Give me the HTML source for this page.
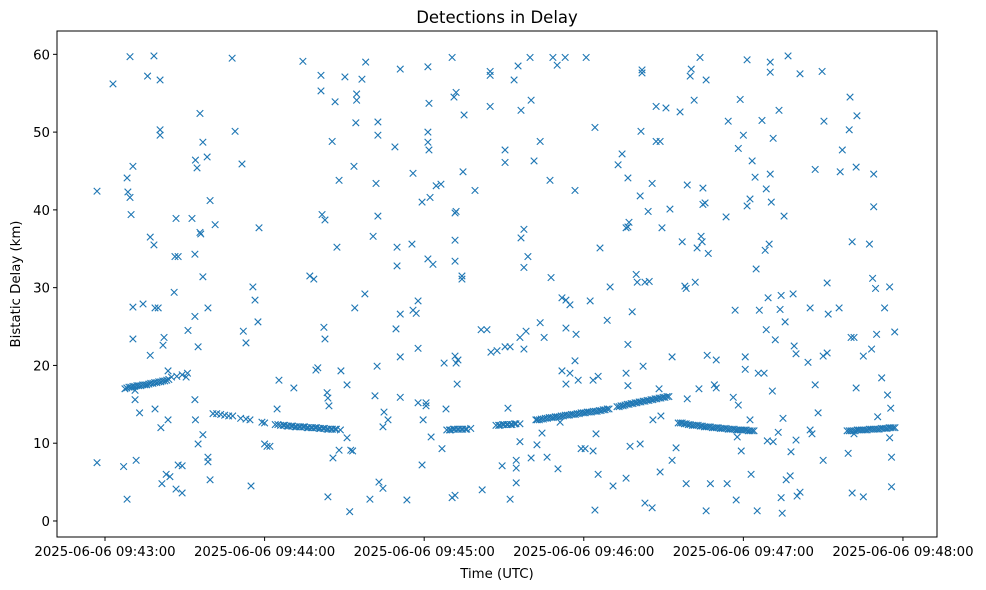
<!DOCTYPE html>
<html><head><meta charset="utf-8"><title>Detections in Delay</title>
<style>
html,body{margin:0;padding:0;background:#fff;}
svg{display:block;font-family:"DejaVu Sans","Liberation Sans",sans-serif;}
</style></head>
<body>
<svg id="chart" width="986" height="590" viewBox="0 0 986 590" xmlns="http://www.w3.org/2000/svg">
<rect x="0" y="0" width="986" height="590" fill="#fff"/>
<text x="497" y="23" font-size="16.5" text-anchor="middle" fill="#000">Detections in Delay</text>
<g id="plot"></g>
<rect x="57" y="31" width="880" height="506" fill="none" stroke="#000" stroke-width="1"/>
<text x="497" y="578" font-size="13.3" text-anchor="middle" fill="#000">Time (UTC)</text>
<text transform="translate(20,284) rotate(-90)" font-size="13.3" text-anchor="middle" fill="#000">Bistatic Delay (km)</text>
</svg>
<script>
// time in seconds relative to 2025-06-06 09:43:00 ; delay in km
const noiseTimes = [-3,-3,3,7,8.3,9.4,8.3,8.6,9.4,9.8,10.5,10.5,10.5,11.3,11.3,11.7,13,14.3,16,17,17,18.4,18.4,18.8,18.8,20,20.7,20.7,20.7,21,21.4,21.8,22.2,23,23.7,23.7,24.4,26,26.7,26.3,27.5,27.5,26.7,29,29,30.5,31.2,32.7,33.8,33.8,34,34.6,35,35,35.7,35.7,36,36.8,36.8,36.8,38.4,38.7,38.7,39.5,39.5,38.7,41.4,40.6,33.8,34,47.8,48.9,51.5,52,53,54.9,55.6,56.4,57.5,57.9,60.9,62,60,64.7,65.4,71,74.4,77,78.5,79.3,80,81.2,81.2,81.6,82.7,82.3,82.7,83.5,83.8,83.8,84.2,85.4,85.7,86.5,87.2,88,88,88.7,90.2,91,91,92,92.4,93.1,93.6,94.3,94.6,94.6,93.9,96.6,97.7,98,99.6,100.8,101.9,101.5,102.3,102.6,102.6,102.6,103,104.5,104.5,104.9,106.4,109,109.4,109.8,109.8,111,111,111,111,113.5,115.4,115.8,115.8,117,117.7,117.7,117.7,119.2,119.2,119.6,120.7,120.7,121.4,121.4,121.4,121.8,121.8,121.4,122.2,122.6,123.3,124.5,126.3,126.7,127.5,128.2,130.5,131.2,131.6,131.6,131.6,132,130.5,131.6,131.6,132,132.4,132,132.7,134.2,134.2,134.6,135,139.1,141.4,141.8,143.6,144.8,144.8,144.8,145.1,147.4,149.3,150.4,150.4,150.4,151.5,152.3,152.3,153.8,154.6,154.6,154.6,155.3,156,156,156.4,156.4,157.5,157.5,157.5,158.3,159,159.8,160.2,160.2,161.3,162,162.4,163.6,163.6,164.3,165.1,166.2,167.3,167.7,168.4,170,170.3,171.1,171.8,171.8,173,173.3,173.3,173.3,174.8,174.8,176.7,176.7,177.1,177.9,179,180.5,180.9,182.4,183.5,183.5,184.2,184.2,184.6,185.4,185.4,186.1,188.8,189.9,191,192.9,194.4,195.9,195.9,195.9,196.6,196.6,196.6,196.6,197,197.4,198.2,199.7,200.1,201.2,201.2,201.5,201.9,201.9,202.3,203,203,204.2,204.6,205.7,205.7,206,207.2,207.2,208.7,208.3,208.7,209,209.4,210.9,212.4,213.2,213.2,214.7,216.2,217,218,218.5,218.5,218.9,218.9,220,220.4,221.5,221.9,222.6,223.7,223.3,224.1,224.5,224.8,224.8,226,226,225.6,226.4,226.8,227.6,229.1,229.8,229.8,233.5,233.9,234.3,236.2,236.9,237.3,238.1,237.7,238.1,238.8,239.2,240,240.7,240.7,241.4,241.4,242.5,242.5,242.9,243.3,244.4,244.8,245.2,245.6,246,247,247.8,248.2,248.6,248.6,249,249.3,249.7,250.1,250.1,250.1,250.5,250.9,251.2,251.2,252,253.4,253.1,253.8,254.2,254.2,254.6,254.9,255.3,255.7,256.1,256.8,257.6,257.9,258.7,259.1,259.8,259.8,260.2,261.3,261.3,264.3,265.1,265.1,265.8,267,267,268.1,269.6,270,270.3,270,271.5,271.5,271.9,276,276.4,277.2,279.4,279.8,280.1,280.9,280.9,280.5,281.6,281.6,282.4,282.7,282.4,285.1,285.1,287.4,288.2,288.6,289,289,289.7,290.1,290.5,292,293.1,294.2,295,295,295.4,295.7,295.7,296.9];
const noiseDelays = [42.4,7.5,56.2,7,2.8,59.7,44.1,42.3,41.6,39.4,45.6,27.5,23.4,16.8,15.6,7.8,13.9,27.9,57.2,36.5,21.3,59.8,35.5,27.4,14.4,27.4,50.3,49.6,56.7,12,4.8,22.6,23.6,6,13,19.3,5.7,29.4,38.9,34,34,7.2,4.1,3.6,7.1,18.5,24.5,38.9,34.3,26.3,46.4,45.4,22.4,9.9,52.4,37.1,36.9,31.4,48.7,11.1,46.8,8.2,7.6,5.3,41.2,27.4,38.1,13.8,15.6,13,59.5,50.1,45.9,24.4,22.9,4.5,30.1,28.4,25.6,37.7,9.6,9.6,9.9,14.4,18.1,17.1,59.1,31.5,31.1,19.4,19.7,57.3,55.3,39.4,38.7,24.9,23.4,16.5,15.8,3.1,14.8,48.8,8.1,53.9,35.2,43.8,9.1,19.3,57.1,17.5,10.7,1.2,9.1,9,45.6,51.2,54.1,54.9,27.4,56.8,29.2,59,2.8,36.6,43.4,16.1,19.9,49.6,51.3,39.2,5,4.2,12.1,14,13,48.1,24.7,35.2,32.8,58.1,15.9,21.1,26.6,2.7,35.6,44.7,27.1,26.7,28.3,22.2,15.2,41,7.2,13,14.8,15.2,58.4,50,48.7,53.7,47.7,33.7,41.6,10.8,33,43.1,43.3,9.3,20.3,14.4,59.6,54.5,33.4,36.1,39.6,39.8,3,3.3,21.2,55.1,17.6,20.3,20.7,31.5,31.1,44.9,52.2,42.5,24.6,4,24.6,57.8,57.3,53.3,21.7,21.9,7.1,47.7,46.1,22.4,14.5,22.4,2.8,56.7,6.8,4.9,7.8,58.5,10.2,23.6,36.4,52.8,32.6,37.5,22.1,24.4,34,59.6,54.1,8.1,46.3,13,9.8,48.8,25.5,11.3,23.6,8.2,43.8,31.3,59.6,58.6,6.7,12.7,28.7,19.3,59.6,28.4,24.8,17.6,27.8,19,42.5,20.6,24,18.1,9.3,9.3,59.6,28.3,9,18.1,1.4,50.6,11.2,18.6,6,35.1,25.8,30.1,4.5,45.8,47.2,37.7,19,5.5,44.1,37.8,22.7,17.4,38.4,9.6,26.9,31.7,30.7,41.8,9.9,50.1,57.6,58,19.9,2.3,30.7,39.8,30.8,43.4,1.7,13,53.3,48.8,48.8,17,6.3,13.5,37.7,53.1,40.1,7.8,21.1,9.4,52.6,35.9,30.2,29.9,4.8,43.2,15.7,57.2,58.1,54.1,30.7,35.1,59.6,17,36.6,35.9,42.8,40.7,56.7,1.3,40.9,21.3,34.4,4.8,17.5,17.1,20.7,39.1,4.8,51.4,15.9,27.1,2.7,47.9,10.8,14.9,54.2,9,49.6,19.5,21.1,59.3,40.5,41.4,13,6,46.3,44.2,32.4,1.3,19,27.1,51.5,19,34.8,24.6,42.7,10.3,28.7,35.6,44.6,57.7,59,41,16.7,49.2,10.2,23.3,52.8,11.4,27.2,29,3,1,13.2,39.2,25.6,5.3,59.8,5.8,8.9,29.2,22.5,21.5,10.4,3.2,57.5,3.7,20.4,27.4,11.7,11.2,45.2,17.5,13.9,57.8,7.8,51.4,21.2,30.6,21.6,26.6,27.4,44.9,47.7,8.7,50.3,54.5,35.9,3.6,23.6,23.6,11.2,17.1,52.1,45.5,21.2,3.1,35.6,22.1,31.2,44.6,40.4,29.9,24,13.4,18.4,27.4,16.2,10.7,30.1,14.5,8.2,4.4,24.3];
const trackTimes = [7.5,8.2,9,9.7,10.5,11.2,12,12.7,13.5,14.2,15,15.7,16.5,17.2,18,18.7,19.5,20.2,21,21.7,22.5,23.2,24,25,27,29,31,
42,43.5,45,46.5,48,51,53,54.5,59,60,
64,65,66,67,67.5,68.5,69,70,70.5,71.5,72,73,73.5,74.5,75,76,76.5,77.5,78,79,79.5,80.5,81,82,82.5,83.5,84,85,85.5,86.5,87,88.5,
128.5,129.5,130,131,131.5,132.5,133,134,134.5,135.5,136,137.5,147,148,148.5,149.5,150,151,151.5,152.5,153,154,154.5,156,
162.5,163.3,164,164.8,165.5,166.3,167,167.8,168.5,169.3,170,170.8,171.5,172.3,173,173.8,174.5,175.3,176,176.8,177.5,178.3,179,179.8,180.5,181.3,182,182.8,183.5,184.3,185,185.8,186.5,187.3,188,188.8,189.5,
192.5,193.3,194,194.8,195.5,196.3,197,197.8,198.5,199.3,200,200.8,201.5,202.3,203,203.8,204.5,205.3,206,206.8,207.5,208.3,209,209.8,210.5,211.3,212,
215.5,216.3,217,217.8,218.5,219.3,220,220.8,221.5,222.3,223,223.8,224.5,225.3,226,226.8,227.5,228.3,229,229.8,230.5,231.3,232,232.8,233.5,234.3,235,235.8,236.5,237.3,238,238.8,239.5,240.3,241,241.8,242.5,243.3,244,
279,279.8,280.5,281.3,282,282.8,283.5,284.3,285,285.8,286.5,287.3,288,288.8,289.5,290.3,291,291.8,292.5,293.3,294,294.8,295.5,296.3,297];
const trackDelays = [17.0,17.1,17.2,17.2,17.3,17.3,17.4,17.4,17.4,17.5,17.5,17.5,17.6,17.7,17.7,17.8,17.8,17.9,17.9,18.0,18.0,18.1,18.2,18.5,18.6,18.8,19.0,
13.8,13.7,13.6,13.5,13.5,13.2,13.1,13.0,12.7,12.6,
12.4,12.4,12.3,12.3,12.3,12.2,12.2,12.2,12.2,12.1,12.1,12.1,12.1,12.1,12.1,12.0,12.0,12.0,12.0,12.0,12.0,11.9,11.9,11.9,11.9,11.8,11.8,11.8,11.8,11.8,11.8,11.7,
11.7,11.7,11.7,11.8,11.8,11.8,11.8,11.8,11.8,11.8,11.8,11.9,12.3,12.3,12.3,12.4,12.4,12.4,12.4,12.4,12.4,12.5,12.5,12.5,
13.0,13.0,13.1,13.1,13.2,13.2,13.3,13.3,13.3,13.4,13.4,13.4,13.5,13.5,13.6,13.6,13.6,13.7,13.7,13.7,13.8,13.8,13.9,13.9,13.9,14.0,14.0,14.0,14.1,14.1,14.1,14.2,14.2,14.3,14.3,14.4,14.4,
14.7,14.7,14.8,14.8,14.9,15.0,15.0,15.1,15.1,15.2,15.2,15.3,15.3,15.4,15.4,15.5,15.5,15.6,15.6,15.7,15.7,15.8,15.8,15.9,15.9,16.0,16.0,
12.6,12.6,12.6,12.5,12.5,12.4,12.4,12.3,12.3,12.3,12.3,12.2,12.2,12.1,12.1,12.1,12.1,12.0,12.0,12.0,12.0,11.9,11.9,11.9,11.9,11.8,11.8,11.8,11.8,11.7,11.7,11.7,11.7,11.7,11.7,11.6,11.6,11.6,11.6,
11.6,11.6,11.6,11.6,11.6,11.7,11.7,11.7,11.7,11.7,11.7,11.8,11.8,11.8,11.8,11.8,11.8,11.9,11.9,11.9,11.9,12.0,12.0,12.0,12.0];
const xTickSeconds = [0,60,120,180,240,300];
const xTickLabels = ["2025-06-06 09:43:00","2025-06-06 09:44:00","2025-06-06 09:45:00","2025-06-06 09:46:00","2025-06-06 09:47:00","2025-06-06 09:48:00"];
const yTickValues = [0,10,20,30,40,50,60];

const NS="http://www.w3.org/2000/svg";
const plot=document.getElementById('plot');
const X0=57,X1=937,Y0=537,Y1=31;
const tMin=-18.05,tMax=312.8,dMin=-2.06,dMax=63.0;
function xScale(t){return X0+(t-tMin)/(tMax-tMin)*(X1-X0);}
function yScale(d){return Y0-(d-dMin)/(dMax-dMin)*(Y0-Y1);}
function mk(tag,attrs){const e=document.createElementNS(NS,tag);for(const k in attrs)e.setAttribute(k,attrs[k]);return e;}

xTickSeconds.forEach((s,i)=>{
  const x=xScale(s);
  const tk=mk('line',{x1:x,x2:x,y1:Y0,y2:Y0+4,stroke:'#000','stroke-width':1});
  
  
  plot.appendChild(tk);
  const tx=mk('text',{x:x,y:Y0+19,'font-size':13.3,'text-anchor':'middle',fill:'#000'});
  
  
  tx.textContent=xTickLabels[i];
  plot.appendChild(tx);
});
yTickValues.forEach(v=>{
  const y=yScale(v);
  const tk=mk('line',{x1:X0-4,x2:X0,y1:y,y2:y,stroke:'#000','stroke-width':1});
  
  
  plot.appendChild(tk);
  const tx=mk('text',{x:X0-7,y:y+5,'font-size':13.3,'text-anchor':'end',fill:'#000'});
  
  
  tx.textContent=String(v);
  plot.appendChild(tx);
});
const g=mk('g',{stroke:'#1f77b4','stroke-width':1.1,fill:'none'});


plot.appendChild(g);
function drawX(t,d){
  const x=xScale(t),y=yScale(d),r=3.3;
  const p=mk('path',{d:`M${x-r},${y-r}L${x+r},${y+r}M${x-r},${y+r}L${x+r},${y-r}`});
  
  
  g.appendChild(p);
}
noiseTimes.forEach((t,i)=>drawX(t,noiseDelays[i]));
trackTimes.forEach((t,i)=>drawX(t,trackDelays[i]));
</script>
</body></html>
